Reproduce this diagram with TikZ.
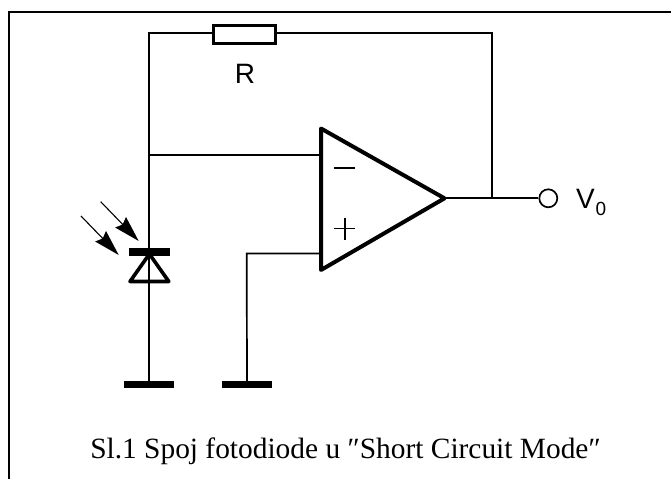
\documentclass[tikz,border=0pt]{standalone}
\usepackage{fontspec}
\setmainfont{Liberation Serif}
\newfontfamily\labelfont{Liberation Sans}
\usetikzlibrary{positioning,arrows.meta}

\begin{document}
\begin{tikzpicture}[
  x=1pt, y=-1pt,
  wire/.style={draw, line width=1.7pt},
  resistor/.style={rectangle, draw, line width=3.2pt, minimum width=61.5pt, minimum height=18pt, inner sep=0pt},
  opamp/.style={draw, line width=4pt, line join=round},
  sign/.style={line width=1.7pt},
  bar/.style={rectangle, fill=black, inner sep=0pt, minimum height=7pt},
  terminal/.style={circle, draw, line width=1.7pt, minimum size=18pt, inner sep=0pt},
  lbl/.style={font=\labelfont\fontsize{28}{28}\selectfont, inner sep=0pt},
  light/.style={line width=1.1pt, -{Stealth[length=26pt,width=15pt,inset=3pt]}},
  >=latex
]
\useasboundingbox (0,0) rectangle (671,479);

% frame
\draw[line width=1.6pt] (8.7,479) -- (8.7,12) -- (671,12);

% opamp
\coordinate (inv) at (321,155);
\coordinate (noninv) at (321,253.5);
\coordinate (tip) at (444.5,198.3);
\draw[opamp] (321,128.5) -- (tip) -- (321,270) -- cycle;
\draw[sign] (334,167.7) -- (355,167.7);
\draw[sign] (334,228.5) -- (355,228.5);
\draw[sign] (344.7,218) -- (344.7,240);

% feedback
\node[resistor] (res) at (244.5,34.5) {};
\node[lbl, anchor=base] (rlabel) at (245,83) {R};
\coordinate (topleft) at (149.3,33);
\coordinate (topright) at (492,33);
\coordinate (junc) at (492,198.3);
\node[terminal] (out) at (548.3,198.3) {};
\node[lbl, anchor=base west] (vout) at (576,208.5) {V};
\node[lbl, font=\labelfont\fontsize{19}{19}\selectfont, anchor=base west] (vsub) at (595.5,215.5) {0};

% diode
\node[bar, minimum width=40.5pt, minimum height=7.4pt] (cathode) at (149.5,252) {};
\node[bar, minimum width=49.5pt] (gnda) at (149,384) {};
\node[bar, minimum width=49.5pt] (gndb) at (247,384) {};
\coordinate (anode) at (149.3,281.5);
\coordinate (light1) at (100.7,201.7);
\coordinate (light1end) at (138.7,241);
\coordinate (light2) at (81,216);
\coordinate (light2end) at (118.7,255);

\draw[wire] (res.west |- topleft) -- (topleft) -- (gnda.center -| topleft);
\draw[wire] (res.east |- topright) -- (topright) -- (junc);
\draw[wire] (tip) -- (out.west);
\draw[wire] (topleft |- inv) -- (inv);
\draw[wire] (noninv) -- (246.7,253.5) -- (gndb.center);
\draw[line width=3.6pt, line join=round] (149.4,254) -- (130,281.5) -- (168.8,281.5) -- cycle;
\draw[light] (light1) -- (light1end);
\draw[light] (light2) -- (light2end);

% caption
\node[font=\fontsize{29.4}{32}\selectfont, inner sep=0pt, anchor=base] (caption) at (345.5,458) {Sl.1 Spoj fotodiode u ″Short Circuit Mode″};
\end{tikzpicture}
\end{document}
